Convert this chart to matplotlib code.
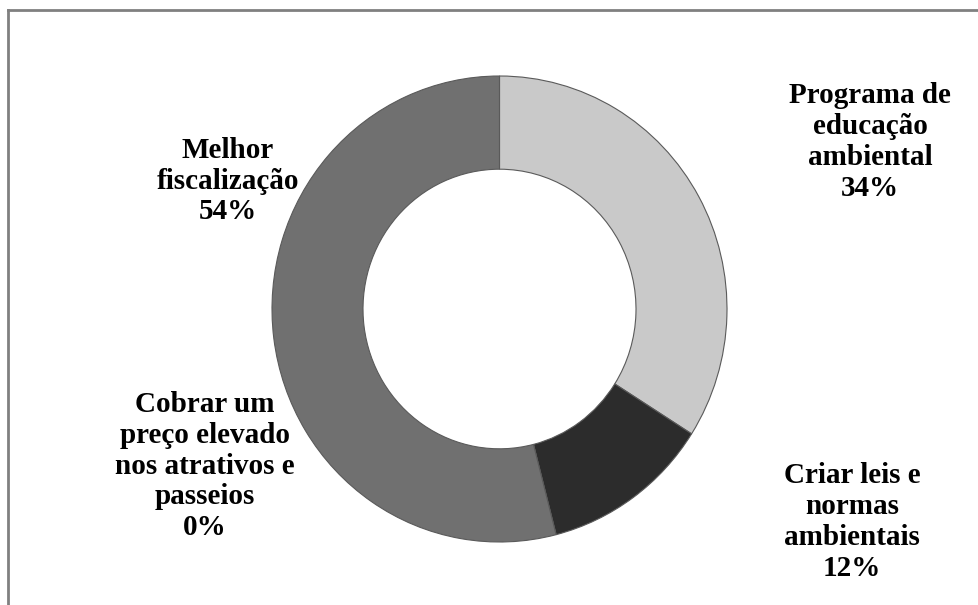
import matplotlib.pyplot as plt
from matplotlib.lines import Line2D

labels = ['Programa de\neducação\nambiental', 'Criar leis e\nnormas\nambientais',
          'Cobrar um\npreço elevado\nnos atrativos e\npasseios', 'Melhor\nfiscalização']
values = [34, 12, 0, 54]
colors = ['#c9c9c9', '#2c2c2c', '#9a9a9a', '#707070']

# label centres in pixels (x from left, y from top)
label_pos = [(870, 142), (852, 522), (205, 466), (228, 181)]

W, H = 979, 605
fig = plt.figure(figsize=(W / 100, H / 100), dpi=100)

ax = fig.add_axes([272 / W, 63 / H, 455 / W, 466 / H])
wedges, _ = ax.pie(values, colors=colors, startangle=90, counterclock=False,
                   radius=1, wedgeprops=dict(width=0.4, edgecolor='#5a5a5a', linewidth=0.8))
ax.set_xlim(-1, 1)
ax.set_ylim(-1, 1)
ax.set_aspect('auto')
ax.axis('off')

for lab, v, (px, py) in zip(labels, values, label_pos):
    fig.text(px / W, 1 - py / H, f'{lab}\n{v}%', ha='center', va='center',
             fontsize=21, fontweight='bold', family='Liberation Serif',
             linespacing=1.18)

# frame: top and left only
fig.add_artist(Line2D([8 / W, 1], [1 - 10 / H, 1 - 10 / H], color='#808080', lw=2))
fig.add_artist(Line2D([8 / W, 8 / W], [0, 1 - 10 / H], color='#808080', lw=2))

fig.savefig('out.png', dpi=100)
